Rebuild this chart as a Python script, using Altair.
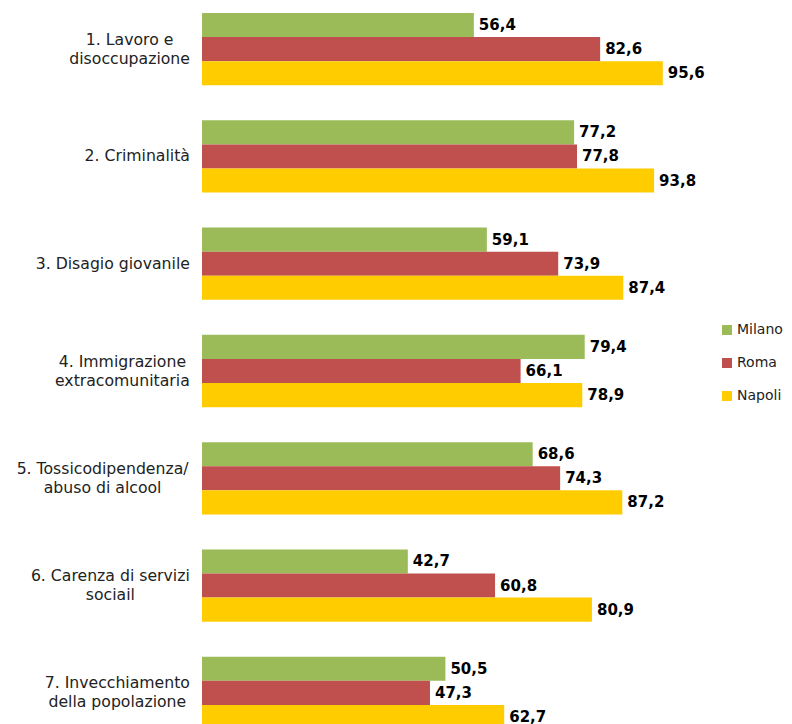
import altair as alt
import pandas as pd

categories = [
    "1. Lavoro e\ndisoccupazione",
    "2. Criminalità",
    "3. Disagio giovanile",
    "4. Immigrazione\nextracomunitaria",
    "5. Tossicodipendenza/\nabuso di alcool",
    "6. Carenza di servizi\nsociail",
    "7. Invecchiamento\ndella popolazione",
]
cities = ["Milano", "Roma", "Napoli"]
milano = [56.4, 77.2, 59.1, 79.4, 68.6, 42.7, 50.5]
roma = [82.6, 77.8, 73.9, 66.1, 74.3, 60.8, 47.3]
napoli = [95.6, 93.8, 87.4, 78.9, 87.2, 80.9, 62.7]
colors = ["#9BBB59", "#C0504D", "#FFCC00"]

FONT = "DejaVu Sans"
FS = 15
CFS = 15.7
LH = 19
PX_PER_UNIT = 4.82
WIDTH = 482

rows = []
for ser, city in zip([milano, roma, napoli], cities):
    for c, v in zip(categories, ser):
        rows.append({"cat": c, "city": city, "value": v,
                     "label": f"{v:.1f}".replace(".", ",")})
df = pd.DataFrame(rows)

# approximate glyph widths (em) for centring multi-line labels
W = {' ': .318, '.': .318, ',': .318, '/': .337, 'a': .613, 'b': .635, 'c': .55,
     'd': .635, 'e': .615, 'f': .352, 'g': .635, 'h': .634, 'i': .278, 'j': .278,
     'k': .579, 'l': .278, 'm': .974, 'n': .634, 'o': .612, 'p': .635, 'q': .635,
     'r': .411, 's': .521, 't': .392, 'u': .634, 'v': .592, 'w': .818, 'x': .592,
     'y': .592, 'z': .525, 'à': .613, 'C': .698, 'D': .77, 'I': .295, 'L': .557,
     'T': .611}


def text_w(s):
    return sum(W.get(ch, .636) for ch in s) * CFS


lab = pd.DataFrame({
    "cat": categories,
    "lx": [-(12 + max(text_w(l) for l in c.split("\n")) / 2) / PX_PER_UNIT
           for c in categories],
    "nlines": [len(c.split("\n")) for c in categories],
})

xscale = alt.Scale(domain=[0, 100], nice=False, zero=True)
yscale = alt.Scale(domain=categories, paddingInner=0.326, paddingOuter=0)

base = alt.Chart(df).encode(
    y=alt.Y("cat:N", scale=yscale, axis=None, sort=categories),
    yOffset=alt.YOffset("city:N", sort=cities, scale=alt.Scale(domain=cities)),
)

bars = base.mark_bar().encode(
    x=alt.X("value:Q", scale=xscale, axis=None),
    color=alt.Color("city:N", sort=cities,
                    scale=alt.Scale(domain=cities, range=colors),
                    legend=alt.Legend(title=None, orient="none", legendX=518,
                                      legendY=310, symbolType="square",
                                      symbolSize=100, symbolStrokeWidth=0,
                                      labelFont=FONT, labelFontSize=14,
                                      labelColor="#222222", rowPadding=19,
                                      labelOffset=3, padding=0)),
)

texts = base.mark_text(align="left", baseline="middle", dx=5, font=FONT,
                       fontSize=FS, fontWeight="bold", color="#000000").encode(
    x=alt.X("value:Q", scale=xscale),
    text="label:N",
)


def cat_layer(n, dy):
    return alt.Chart(lab).transform_filter(f"datum.nlines == {n}").mark_text(
        align="center", baseline="middle", lineBreak="\n", font=FONT,
        fontSize=CFS, color="#222222", lineHeight=LH, dy=dy,
    ).encode(
        y=alt.Y("cat:N", scale=yscale, sort=categories),
        x=alt.X("lx:Q", scale=xscale),
        text="cat:N",
    )


chart = alt.layer(bars, texts, cat_layer(1, 0), cat_layer(2, -LH / 2)).properties(
    width=WIDTH, height=716,
    autosize=alt.AutoSizeParams(type="none"),
    padding={"left": 194, "top": 5, "right": 100, "bottom": 5},
).configure_view(stroke=None)

chart.save("out.html", embed_options={"renderer": "svg", "actions": False})
